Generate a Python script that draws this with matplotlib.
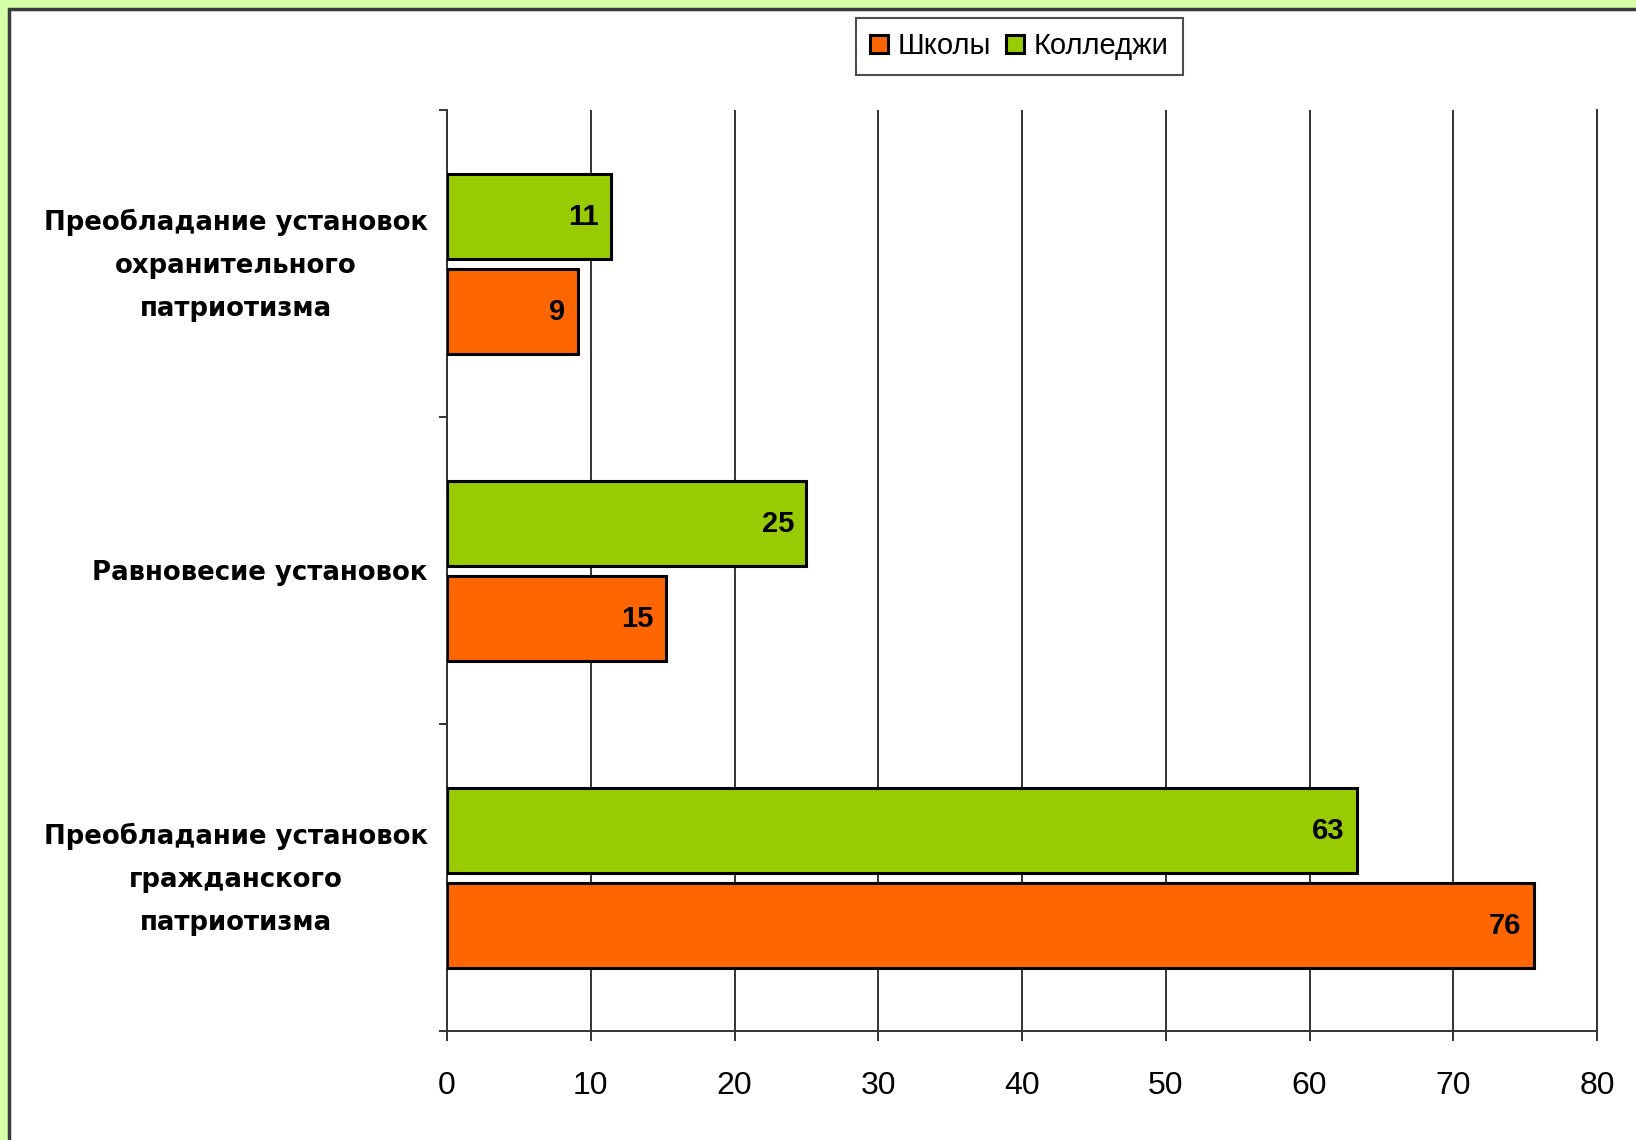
import matplotlib.pyplot as plt
from matplotlib.patches import Rectangle
from matplotlib.transforms import ScaledTranslation
import numpy as np

# data
categories = ["Преобладание установок\nохранительного\nпатриотизма",
              "Равновесие установок",
              "Преобладание установок\nгражданского\nпатриотизма"]
schools = [9.1, 15.2, 75.6]
colleges = [11.4, 25.0, 63.3]
series_names = ["Школы", "Колледжи"]
x_ticks = [0, 10, 20, 30, 40, 50, 60, 70, 80]

orange = '#FF6600'
green = '#99CC00'

plt.rcParams['font.family'] = ['Liberation Sans', 'DejaVu Sans']

fig = plt.figure(figsize=(16.36, 11.4), dpi=100)
fig.patch.set_facecolor('#D4FFA6')
# white panel with dark frame
fig.patches.append(Rectangle((9 / 1636, -0.1), 1.2, 1 - 9 / 1140 + 0.1,
                             transform=fig.transFigure, facecolor='white',
                             edgecolor='#3a3a3a', linewidth=2.5, zorder=-10))

ax = fig.add_axes([447 / 1636, 1 - 1031 / 1140, 1150 / 1636, 921 / 1140])
ax.set_facecolor('none')

centers = np.arange(len(categories)) + 0.5
h = 0.275
b1 = ax.barh(centers + 0.157, schools, height=h, color=orange, edgecolor='black',
             linewidth=2.2, label=series_names[0], zorder=3)
b2 = ax.barh(centers - 0.153, colleges, height=h, color=green, edgecolor='black',
             linewidth=2.2, label=series_names[1], zorder=3)

for bars, vals in ((b1, schools), (b2, colleges)):
    for bar, v in zip(bars, vals):
        ax.annotate(f"{v:.0f}", xy=(v, bar.get_y() + bar.get_height() / 2),
                    xytext=(-9, 0), textcoords='offset points',
                    ha='right', va='center', fontsize=21, fontweight='bold', zorder=4)

ax.set_xlim(0, 80)
ax.set_ylim(3, 0)
ax.set_xticks(x_ticks)
ax.set_xticklabels([str(t) for t in x_ticks], fontsize=23)
ax.grid(axis='x', color='#333333', linewidth=1.4, zorder=1)
ax.set_yticks([0, 1, 2, 3])
ax.set_yticklabels([])
ax.set_yticks(centers, minor=True)
ax.set_yticklabels(categories, minor=True, fontsize=18.7, fontweight='bold',
                   family=['DejaVu Sans'], multialignment='center', linespacing=1.85)
ax.tick_params(axis='y', which='minor', length=0, pad=14)
ax.tick_params(axis='y', which='major', length=6, width=1.4, color='#333333')
ax.tick_params(axis='x', length=7, width=1.4, color='#333333', pad=22)

# multi-line labels sit a little above the band centre
shift = ScaledTranslation(0, 0.10, fig.dpi_scale_trans)
for lbl in ax.get_yticklabels(minor=True):
    if '\n' in lbl.get_text():
        lbl.set_transform(lbl.get_transform() + shift)

for s in ('top',):
    ax.spines[s].set_visible(False)
for s in ('left', 'bottom', 'right'):
    ax.spines[s].set_color('#333333')
    ax.spines[s].set_linewidth(1.4)

leg = fig.legend(handles=[b1, b2], labels=series_names, loc='center',
                 bbox_to_anchor=(1019.5 / 1636, 1 - 46.5 / 1140), ncol=2,
                 fontsize=21, frameon=True, fancybox=False, edgecolor='#222222',
                 handlelength=0.6, handleheight=0.6, handletextpad=0.35,
                 columnspacing=0.5, borderpad=0.5)
leg.get_frame().set_linewidth(1.5)

fig.savefig('out.png', dpi=100, facecolor=fig.get_facecolor())
